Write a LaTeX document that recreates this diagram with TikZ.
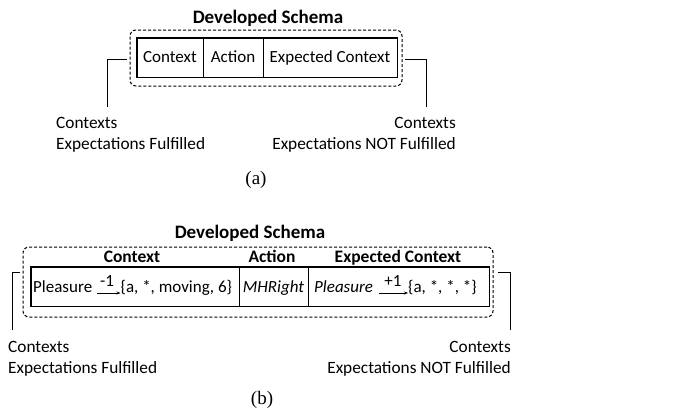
\documentclass[tikz,border=0pt]{standalone}
\usepackage{fontspec}
\setmainfont{Carlito}
\newfontfamily\capfont{Liberation Serif}
\usetikzlibrary{arrows.meta}
\tikzset{
  th/.style={text height=13pt, text depth=2.5pt},
  title/.style={text height=14.5pt, text depth=2.8pt, font=\fontsize{19}{19}\selectfont\bfseries, inner sep=0pt},
  head/.style={th, font=\fontsize{17.5}{17.5}\selectfont\bfseries, inner sep=0pt},
  txt/.style={th, font=\fontsize{17}{17}\selectfont, inner sep=0pt},
  cell/.style={draw, th, line width=0.8pt, minimum height=39pt, inner sep=0pt, font=\fontsize{17}{17}\selectfont},
  outer/.style={line width=1.8pt},
  dashbox/.style={draw, dashed, line width=1pt, rounded corners=6pt, dash pattern=on 3pt off 2pt},
  brk/.style={line width=1pt},
  subcap/.style={font=\capfont\fontsize{19}{19}\selectfont, inner sep=0pt},
  lbl/.style={font=\fontsize{17.3}{17.3}\selectfont, inner sep=0pt, align=left},
  arr/.style={-{Stealth[length=4pt,width=3pt]}, line width=0.7pt},
}
\begin{document}
\begin{tikzpicture}[x=1pt,y=-1pt]
\useasboundingbox (0,0) rectangle (673,418);
% ---------- (a) ----------
\node[title] (ta) at (268,18) {Developed Schema};
\node[dashbox, minimum width=272pt, minimum height=56pt] (da) at (266,58) {};
\node[cell, minimum width=66pt] (a1) at (170,57.5) {Context};
\node[cell, minimum width=60pt] (a2) at (233,57.5) {Action};
\node[cell, minimum width=134pt] (a3) at (330,57.5) {Expected Context};
\draw[outer] (a1.north west) rectangle (a3.south east);
\coordinate (la0) at (127,59);
\coordinate (la1) at (107,59);
\coordinate (la2) at (107,107);
\draw[brk] (la0) -- (la1) -- (la2);
\coordinate (ra0) at (405,59);
\coordinate (ra1) at (426,59);
\coordinate (ra2) at (426,107);
\draw[brk] (ra0) -- (ra1) -- (ra2);
\node[lbl, anchor=north west] (lta) at (56,117) {Contexts\\[4pt]Expectations Fulfilled};
\node[lbl, anchor=north east, align=right] (rta) at (456,117) {Contexts\\[4pt]Expectations NOT Fulfilled};
\node[subcap] (capa) at (256,180) {(a)};
% ---------- (b) ----------
\node[title] (tb) at (250,233) {Developed Schema};
\node[dashbox, minimum width=470pt, minimum height=70pt] (db) at (258,282) {};
\node[head] (h1) at (132,257) {Context};
\node[head] (h2) at (272,257) {Action};
\node[head] (h3) at (398,257) {Expected Context};
\node[cell, minimum width=208pt] (b1) at (135,286.5) {};
\node[cell, minimum width=69pt] (b2) at (273.5,286.5) {};
\node[cell, minimum width=181pt] (b3) at (398.5,286.5) {};
\draw[outer] (b1.north west) rectangle (b3.south east);
% contents
\node[txt, anchor=west] (p1) at (33,287) {Pleasure};
\node[txt, anchor=west] (s1) at (120.5,287) {\{a, *, moving, 6\}};
\coordinate (a1s) at (97,293);
\draw[arr] (a1s) -- (s1.west |- a1s);
\node[txt] (n1) at (107,281) {-1};
\node[txt, font=\fontsize{17}{17}\selectfont\itshape] (mh) at (273.5,287) {MHRight};
\node[txt, anchor=west, font=\fontsize{17}{17}\selectfont\itshape] (p2) at (314,287) {Pleasure};
\node[txt, anchor=west] (s2) at (408,287) {\{a, *, *, *\}};
\coordinate (a2s) at (379,293);
\draw[arr] (a2s) -- (s2.west |- a2s);
\node[txt] (n2) at (393,281) {+1};
% brackets
\coordinate (lb0) at (20,272);
\coordinate (lb1) at (12,272);
\coordinate (lb2) at (12,330);
\draw[brk] (lb0) -- (lb1) -- (lb2);
\coordinate (rb0) at (498,272);
\coordinate (rb1) at (510,272);
\coordinate (rb2) at (510,330);
\draw[brk] (rb0) -- (rb1) -- (rb2);
\node[lbl, anchor=north west] (ltb) at (8,341) {Contexts\\[4pt]Expectations Fulfilled};
\node[lbl, anchor=north east, align=right] (rtb) at (511,341) {Contexts\\[4pt]Expectations NOT Fulfilled};
\node[subcap] (capb) at (262,400) {(b)};
\end{tikzpicture}
\end{document}
